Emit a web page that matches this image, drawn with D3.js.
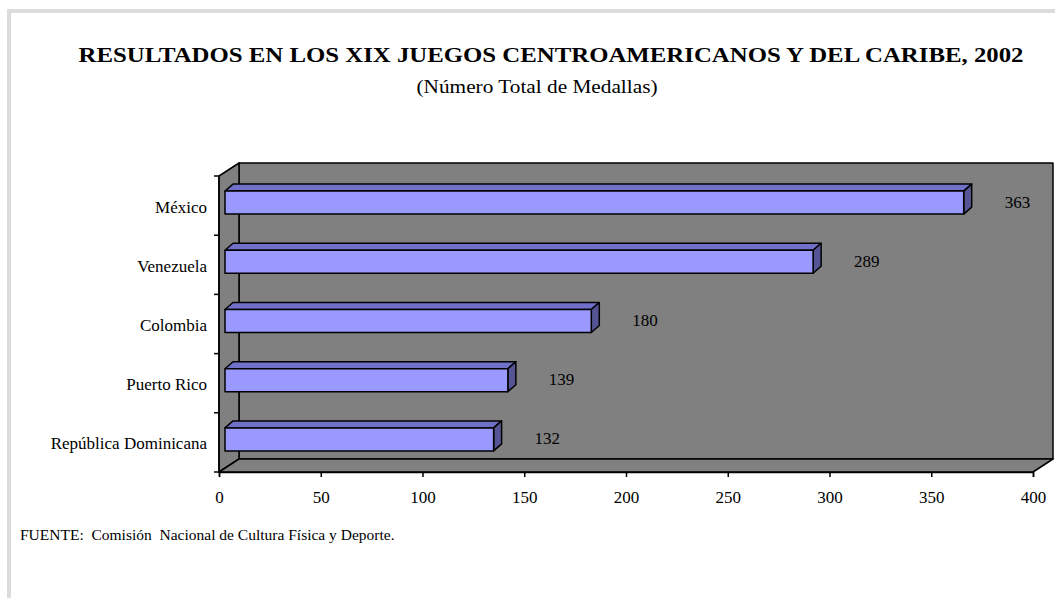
<!DOCTYPE html>
<html>
<head>
<meta charset="utf-8">
<script src="https://cdn.jsdelivr.net/npm/d3@7"></script>
<style>
  body { margin: 0; background: #fff; }
  text { font-family: "Liberation Serif", "Times New Roman", serif; fill: #000; }
</style>
</head>
<body>
<div id="container"></div>
<script>
var width = 1055,
    height = 598;

var countries = ['México', 'Venezuela', 'Colombia', 'Puerto Rico', 'República Dominicana'];
var medals = [363, 289, 180, 139, 132];
var xTicks = [0, 50, 100, 150, 200, 250, 300, 350, 400];

var svg = d3.select('#container').append('svg')
    .attr('width', width)
    .attr('height', height);

// frame
svg.append('rect')
    .attr('x', 9).attr('y', 11)
    .attr('width', 1200).attr('height', 800)
    .attr('fill', 'none')
    .attr('stroke', '#dcdcdc')
    .attr('stroke-width', 4);

var x = d3.scaleLinear().domain([0, 400]).range([219, 1033]);
var y = d3.scaleBand().domain(countries).range([176, 472]);

// depth of the 3d box
var dx = 20, dy = -13;
var x0 = x(0), x1 = x(400), yTop = y.range()[0], yBot = y.range()[1];

function poly(pts) {
  return 'M' + pts.map(function(p) { return p.join(','); }).join('L') + 'Z';
}

var box = svg.append('g')
    .attr('fill', '#808080')
    .attr('stroke', '#000')
    .attr('stroke-width', 1.5)
    .attr('stroke-linejoin', 'round');

box.append('path').attr('d', poly([[x0 + dx, yTop + dy], [x1 + dx, yTop + dy], [x1 + dx, yBot + dy], [x0 + dx, yBot + dy]]));
box.append('path').attr('d', poly([[x0, yTop], [x0 + dx, yTop + dy], [x0 + dx, yBot + dy], [x0, yBot]]));
box.append('path').attr('d', poly([[x0, yBot], [x1, yBot], [x1 + dx, yBot + dy], [x0 + dx, yBot + dy]]));

// bars
var fx = 6, fy = -3, bx = 14, by = -10;
var thick = 23;

var bars = svg.append('g')
    .attr('stroke', '#000')
    .attr('stroke-width', 1.5)
    .attr('stroke-linejoin', 'round')
    .selectAll('.bar')
    .data(countries)
    .enter()
    .append('g')
    .attr('class', 'bar');

bars.each(function(c, i) {
  var g = d3.select(this);
  var cy = y(c) + y.bandwidth() / 2;
  var t = cy - thick / 2, b = cy + thick / 2;
  var xs = x(0), xe = x(medals[i]);
  // top
  g.append('path').attr('fill', '#7070c8')
      .attr('d', poly([[xs + fx, t + fy], [xs + bx, t + by], [xe + bx, t + by], [xe + fx, t + fy]]));
  // side
  g.append('path').attr('fill', '#555595')
      .attr('d', poly([[xe + fx, t + fy], [xe + bx, t + by], [xe + bx, b + by], [xe + fx, b + fy]]));
  // front
  g.append('path').attr('fill', '#9999ff')
      .attr('d', poly([[xs + fx, t + fy], [xe + fx, t + fy], [xe + fx, b + fy], [xs + fx, b + fy]]));
});

// value labels
svg.append('g')
    .selectAll('text')
    .data(countries)
    .enter()
    .append('text')
    .attr('x', function(c, i) { return x(medals[i]) + fx + 41; })
    .attr('y', function(c) { return y(c) + y.bandwidth() / 2 + fy + 5; })
    .style('font-size', '17px')
    .text(function(c, i) { return medals[i]; });

// axes
var gy = svg.append('g').attr('transform', 'translate(' + x0 + ',0)');
gy.append('line').attr('x1', 0).attr('x2', 0).attr('y1', yTop).attr('y2', yBot)
    .attr('stroke', '#000').attr('stroke-width', 1.5);
gy.selectAll('.tk')
    .data(d3.range(countries.length + 1))
    .enter()
    .append('line')
    .attr('x1', -5).attr('x2', 0)
    .attr('y1', function(d) { return yTop + d * y.step(); })
    .attr('y2', function(d) { return yTop + d * y.step(); })
    .attr('stroke', '#000').attr('stroke-width', 1.5);
gy.selectAll('.lbl')
    .data(countries)
    .enter()
    .append('text')
    .attr('x', -12)
    .attr('y', function(c) { return y(c) + y.bandwidth() / 2 + 7; })
    .attr('text-anchor', 'end')
    .style('font-size', '17px')
    .text(function(c) { return c; });

var xAxis = d3.axisBottom(x).tickValues(xTicks).tickSize(5).tickPadding(14);
var gx = svg.append('g')
    .attr('transform', 'translate(0,' + yBot + ')')
    .call(xAxis);
gx.select('.domain').attr('stroke-width', 1.5);
gx.selectAll('.tick line').attr('stroke-width', 1.5);
gx.selectAll('.tick text')
    .style('font-family', '"Liberation Serif", "Times New Roman", serif')
    .style('font-size', '17px');

// titles
svg.append('text')
    .attr('x', 551).attr('y', 62)
    .attr('text-anchor', 'middle')
    .attr('textLength', 945)
    .attr('lengthAdjust', 'spacingAndGlyphs')
    .style('font-size', '22px')
    .style('font-weight', 'bold')
    .text('RESULTADOS EN LOS XIX JUEGOS CENTROAMERICANOS Y DEL CARIBE, 2002');

svg.append('text')
    .attr('x', 537).attr('y', 93)
    .attr('text-anchor', 'middle')
    .attr('textLength', 241)
    .attr('lengthAdjust', 'spacingAndGlyphs')
    .style('font-size', '19px')
    .text('(Número Total de Medallas)');

svg.append('text')
    .attr('x', 20).attr('y', 540)
    .style('font-size', '15.5px')
    .attr('xml:space', 'preserve')
    .text('FUENTE:  Comisión  Nacional de Cultura Física y Deporte.');
</script>
</body>
</html>
